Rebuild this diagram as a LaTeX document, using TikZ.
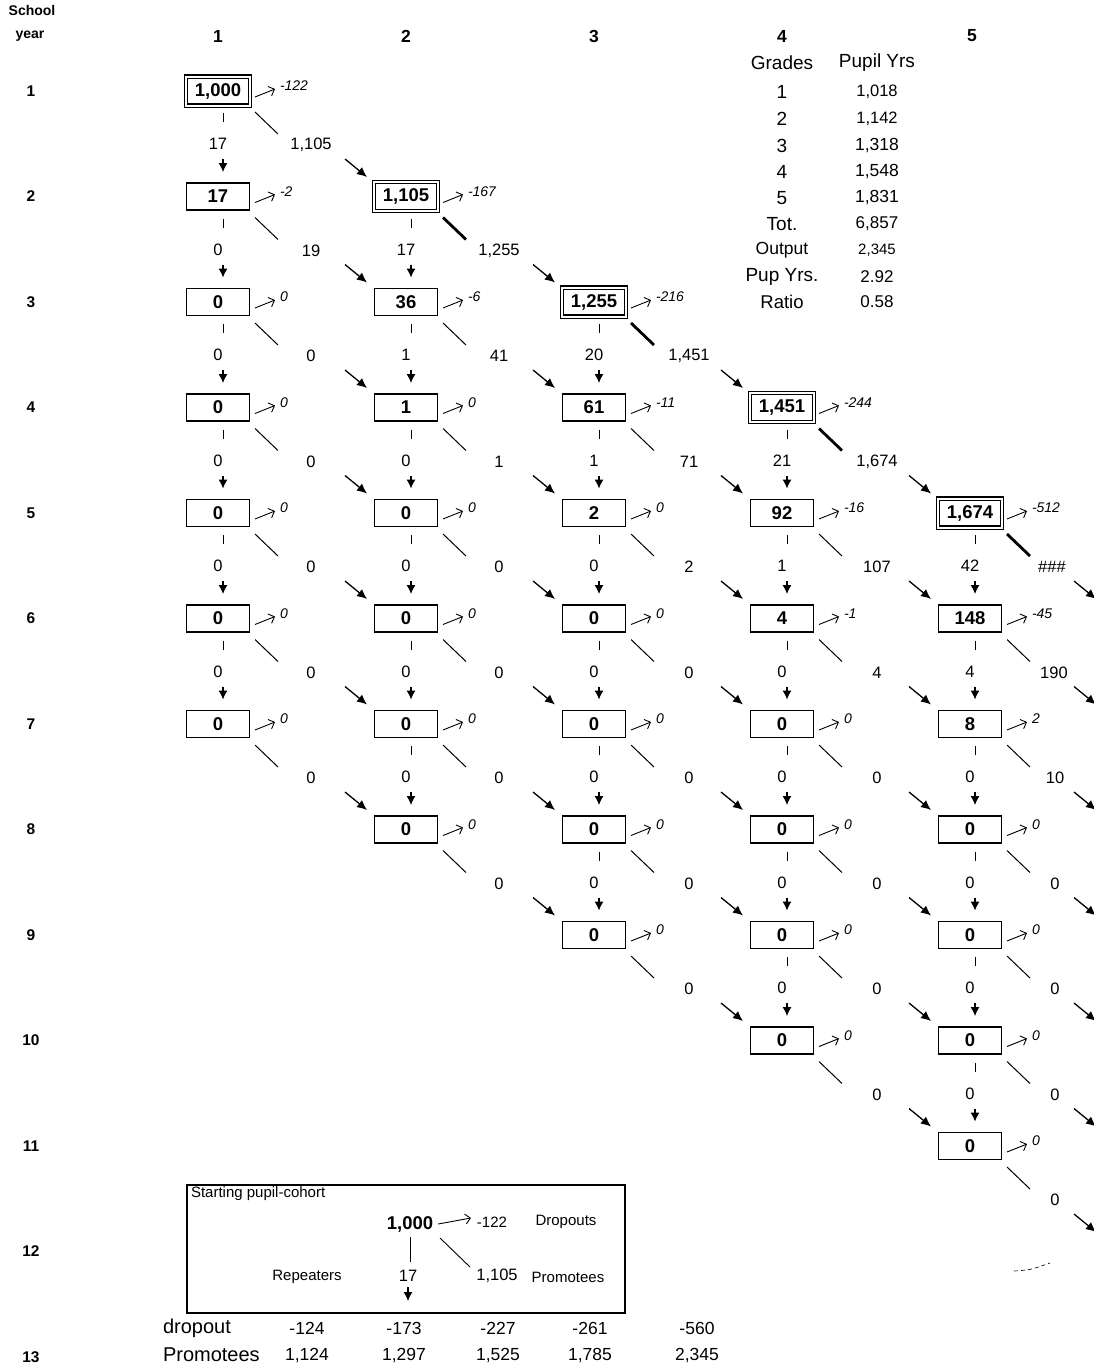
\documentclass[tikz,border=0pt]{standalone}
\usepackage{fontspec}
\setmainfont{Liberation Sans}
\usetikzlibrary{arrows.meta}
\newcommand\bx[5]{%
  \node[#5] (b-#1-#2) at ({218+188*(#1-1)},{91+105.5*(#2-1)}) {#3};
  \draw[droparrow] (b-#1-#2.center) ++(37,6) -- ++(20,-8);
  \node[droplab, anchor=west] (d-#1-#2) at ([shift={(62,-5)}]b-#1-#2.center) {#4};
}
\newcommand\rep[3]{%
  \draw[repline] (b-#1-#2.center) ++(5,22) -- ++(0,9);
  \node[lab] (r-#1-#2) at ([shift={(0,53)}]b-#1-#2.center) {#3};
  \draw[reparrow] (r-#1-#2.center) ++(5,15) -- ++(0,13);
}
\newcommand\prom[6]{%
  \draw[#4] (b-#1-#2.center) ++(37,21) -- ++(23,22);
  \node[lab] (p-#1-#2) at ([shift={(#5,54)}]b-#1-#2.center) {#3};
  \draw[promarrow] (p-#1-#2.center) ++(#6,14) -- ++(22,18);
}
\begin{document}
\begin{tikzpicture}[x=1pt,y=-1pt,
 every node/.style={inner sep=0pt, outer sep=0pt},
 box/.style={draw, line width=1.5pt, minimum width=63pt, minimum height=27pt, font=\fontsize{18.5}{20}\selectfont\bfseries},
 dbox/.style={draw, double, double distance=2pt, line width=1.1pt, minimum width=64pt, minimum height=29pt, font=\fontsize{18.5}{20}\selectfont\bfseries},
 lab/.style={font=\fontsize{16.5}{18}\selectfont},
 droplab/.style={font=\fontsize{14}{15}\selectfont\itshape},
 droparrow/.style={line width=0.9pt, -{Straight Barb[length=5pt,width=10pt]}},
 repline/.style={line width=0.9pt},
 reparrow/.style={line width=1.1pt, -{Latex[length=9pt,width=9pt]}},
 promthin/.style={line width=1pt},
 promthick/.style={line width=2.8pt},
 promarrow/.style={line width=1.3pt, -{Latex[length=10pt,width=9pt]}},
 hdr/.style={font=\fontsize{17.5}{18}\selectfont\bfseries},
 rowlab/.style={font=\fontsize{15.5}{16}\selectfont\bfseries},
 tab/.style={font=\fontsize{19}{20}\selectfont},
 small/.style={font=\fontsize{15}{16}\selectfont},
 bot/.style={font=\fontsize{17.5}{19}\selectfont},
 botw/.style={font=\fontsize{20}{22}\selectfont},
]
\useasboundingbox (0,0) rectangle (1094,1366);
\fill[white] (0,0) rectangle (1094,1366);

% headers
\node[font=\fontsize{14}{15}\selectfont\bfseries] (school) at (32,10) {School};
\node[font=\fontsize{14}{15}\selectfont\bfseries] (year) at (30,36) {year};
\node[hdr] (h1) at (218,36) {1};
\node[hdr] (h2) at (406,36) {2};
\node[hdr] (h3) at (594,36) {3};
\node[hdr] (h4) at (782,36) {4};
\node[hdr] (h5) at (972,36) {5};
\foreach \r in {1,...,13} {
  \node[rowlab] (row\r) at (31,{91+105.5*(\r-1)}) {\r};
}

% summary table
\node[tab] (tg) at (782,63) {Grades};
\node[tab] (tp) at (877,63) {Pupil Yrs};
\node[tab] (tg1) at (782,92) {1};   \node[font=\fontsize{16.5}{17}\selectfont] (tv1) at (877,92) {1,018};
\node[tab] (tg2) at (782,119) {2};  \node[font=\fontsize{16.5}{17}\selectfont] (tv2) at (877,119) {1,142};
\node[tab] (tg3) at (782,146) {3};  \node[font=\fontsize{17.5}{18}\selectfont] (tv3) at (877,146) {1,318};
\node[tab] (tg4) at (782,172) {4};  \node[font=\fontsize{17.5}{18}\selectfont] (tv4) at (877,172) {1,548};
\node[tab] (tg5) at (782,198) {5};  \node[font=\fontsize{17.5}{18}\selectfont] (tv5) at (877,198) {1,831};
\node[tab] (tg6) at (782,224) {Tot.}; \node[font=\fontsize{17}{18}\selectfont] (tv6) at (877,224) {6,857};
\node[font=\fontsize{17.5}{18}\selectfont] (tg7) at (782,250) {Output}; \node[font=\fontsize{15}{16}\selectfont] (tv7) at (877,250) {2,345};
\node[tab] (tg8) at (782,277) {Pup Yrs.}; \node[font=\fontsize{17}{18}\selectfont] (tv8) at (877,277) {2.92};
\node[font=\fontsize{18.5}{19}\selectfont] (tg9) at (782,302) {Ratio}; \node[font=\fontsize{17}{18}\selectfont] (tv9) at (877,302) {0.58};

% column 1
\bx{1}{1}{1,000}{-122}{dbox}
\bx{1}{2}{17}{-2}{box}
\bx{1}{3}{0}{0}{box}
\bx{1}{4}{0}{0}{box}
\bx{1}{5}{0}{0}{box}
\bx{1}{6}{0}{0}{box}
\bx{1}{7}{0}{0}{box}
% column 2
\bx{2}{2}{1,105}{-167}{dbox}
\bx{2}{3}{36}{-6}{box}
\bx{2}{4}{1}{0}{box}
\bx{2}{5}{0}{0}{box}
\bx{2}{6}{0}{0}{box}
\bx{2}{7}{0}{0}{box}
\bx{2}{8}{0}{0}{box}
% column 3
\bx{3}{3}{1,255}{-216}{dbox}
\bx{3}{4}{61}{-11}{box}
\bx{3}{5}{2}{0}{box}
\bx{3}{6}{0}{0}{box}
\bx{3}{7}{0}{0}{box}
\bx{3}{8}{0}{0}{box}
\bx{3}{9}{0}{0}{box}
% column 4
\bx{4}{4}{1,451}{-244}{dbox}
\bx{4}{5}{92}{-16}{box}
\bx{4}{6}{4}{-1}{box}
\bx{4}{7}{0}{0}{box}
\bx{4}{8}{0}{0}{box}
\bx{4}{9}{0}{0}{box}
\bx{4}{10}{0}{0}{box}
% column 5
\bx{5}{5}{1,674}{-512}{dbox}
\bx{5}{6}{148}{-45}{box}
\bx{5}{7}{8}{2}{box}
\bx{5}{8}{0}{0}{box}
\bx{5}{9}{0}{0}{box}
\bx{5}{10}{0}{0}{box}
\bx{5}{11}{0}{0}{box}

% repeaters
\rep{1}{1}{17}\rep{1}{2}{0}\rep{1}{3}{0}\rep{1}{4}{0}\rep{1}{5}{0}\rep{1}{6}{0}
\rep{2}{2}{17}\rep{2}{3}{1}\rep{2}{4}{0}\rep{2}{5}{0}\rep{2}{6}{0}\rep{2}{7}{0}
\rep{3}{3}{20}\rep{3}{4}{1}\rep{3}{5}{0}\rep{3}{6}{0}\rep{3}{7}{0}\rep{3}{8}{0}
\rep{4}{4}{21}\rep{4}{5}{1}\rep{4}{6}{0}\rep{4}{7}{0}\rep{4}{8}{0}\rep{4}{9}{0}
\rep{5}{5}{42}\rep{5}{6}{4}\rep{5}{7}{0}\rep{5}{8}{0}\rep{5}{9}{0}\rep{5}{10}{0}

% promotions
\prom{1}{1}{1,105}{promthin}{93}{34}
\prom{1}{2}{19}{promthin}{93}{34}
\prom{1}{3}{0}{promthin}{93}{34}
\prom{1}{4}{0}{promthin}{93}{34}
\prom{1}{5}{0}{promthin}{93}{34}
\prom{1}{6}{0}{promthin}{93}{34}
\prom{1}{7}{0}{promthin}{93}{34}
\prom{2}{2}{1,255}{promthick}{93}{34}
\prom{2}{3}{41}{promthin}{93}{34}
\prom{2}{4}{1}{promthin}{93}{34}
\prom{2}{5}{0}{promthin}{93}{34}
\prom{2}{6}{0}{promthin}{93}{34}
\prom{2}{7}{0}{promthin}{93}{34}
\prom{2}{8}{0}{promthin}{93}{34}
\prom{3}{3}{1,451}{promthick}{95}{32}
\prom{3}{4}{71}{promthin}{95}{32}
\prom{3}{5}{2}{promthin}{95}{32}
\prom{3}{6}{0}{promthin}{95}{32}
\prom{3}{7}{0}{promthin}{95}{32}
\prom{3}{8}{0}{promthin}{95}{32}
\prom{3}{9}{0}{promthin}{95}{32}
\prom{4}{4}{1,674}{promthick}{95}{32}
\prom{4}{5}{107}{promthin}{95}{32}
\prom{4}{6}{4}{promthin}{95}{32}
\prom{4}{7}{0}{promthin}{95}{32}
\prom{4}{8}{0}{promthin}{95}{32}
\prom{4}{9}{0}{promthin}{95}{32}
\prom{4}{10}{0}{promthin}{95}{32}
\prom{5}{5}{\#\#\#}{promthick}{82}{22}
\prom{5}{6}{190}{promthin}{84}{20}
\prom{5}{7}{10}{promthin}{85}{19}
\prom{5}{8}{0}{promthin}{85}{19}
\prom{5}{9}{0}{promthin}{85}{19}
\prom{5}{10}{0}{promthin}{85}{19}
\prom{5}{11}{0}{promthin}{85}{19}

% legend
\node[draw, line width=1.3pt, minimum width=438pt, minimum height=128pt] (legend) at (406,1249) {};
\node[small, anchor=north west] (lgtitle) at (191,1187) {Starting pupil-cohort};
\node[font=\fontsize{18.5}{20}\selectfont\bfseries] (lgn) at (410,1224) {1,000};
\node[small] (lgd) at (492,1222) {-122};
\node[small] (lgdl) at (566,1222) {Dropouts};
\draw[line width=0.9pt, -{Straight Barb[length=5pt,width=10pt]}] (lgn.east) ++(5,0) -- ([shift={(-6,-4)}]lgd.west);
\draw[line width=0.5pt] (lgn.center) ++(0,13) -- ++(0,25);
\node[small] (lgrl) at (307,1277) {Repeaters};
\node[lab] (lgr) at (408,1276) {17};
\draw[reparrow] (lgr.center) ++(0,11) -- ++(0,14);
\draw[line width=0.9pt] (lgn.center) ++(30,14) -- ++(30,29);
\node[lab] (lgp) at (497,1276) {1,105};
\node[small] (lgpl) at (568,1277) {Promotees};

% bottom totals
\node[botw, anchor=west] (btd) at (163,1328) {dropout};
\node[botw, anchor=west] (btp) at (163,1355) {Promotees};
\node[bot] (d1) at (307,1328) {-124};
\node[bot] (d2) at (404,1328) {-173};
\node[bot] (d3) at (498,1328) {-227};
\node[bot] (d4) at (590,1328) {-261};
\node[bot] (d5) at (697,1328) {-560};
\node[bot] (q1) at (307,1355) {1,124};
\node[bot] (q2) at (404,1355) {1,297};
\node[bot] (q3) at (498,1355) {1,525};
\node[bot] (q4) at (590,1355) {1,785};
\node[bot] (q5) at (697,1355) {2,345};

% faint stroke at lower right
\draw[line width=0.6pt, dash pattern=on 4pt off 3pt] (1014,1271) .. controls (1030,1270) .. (1050,1263);
\end{tikzpicture}
\end{document}
